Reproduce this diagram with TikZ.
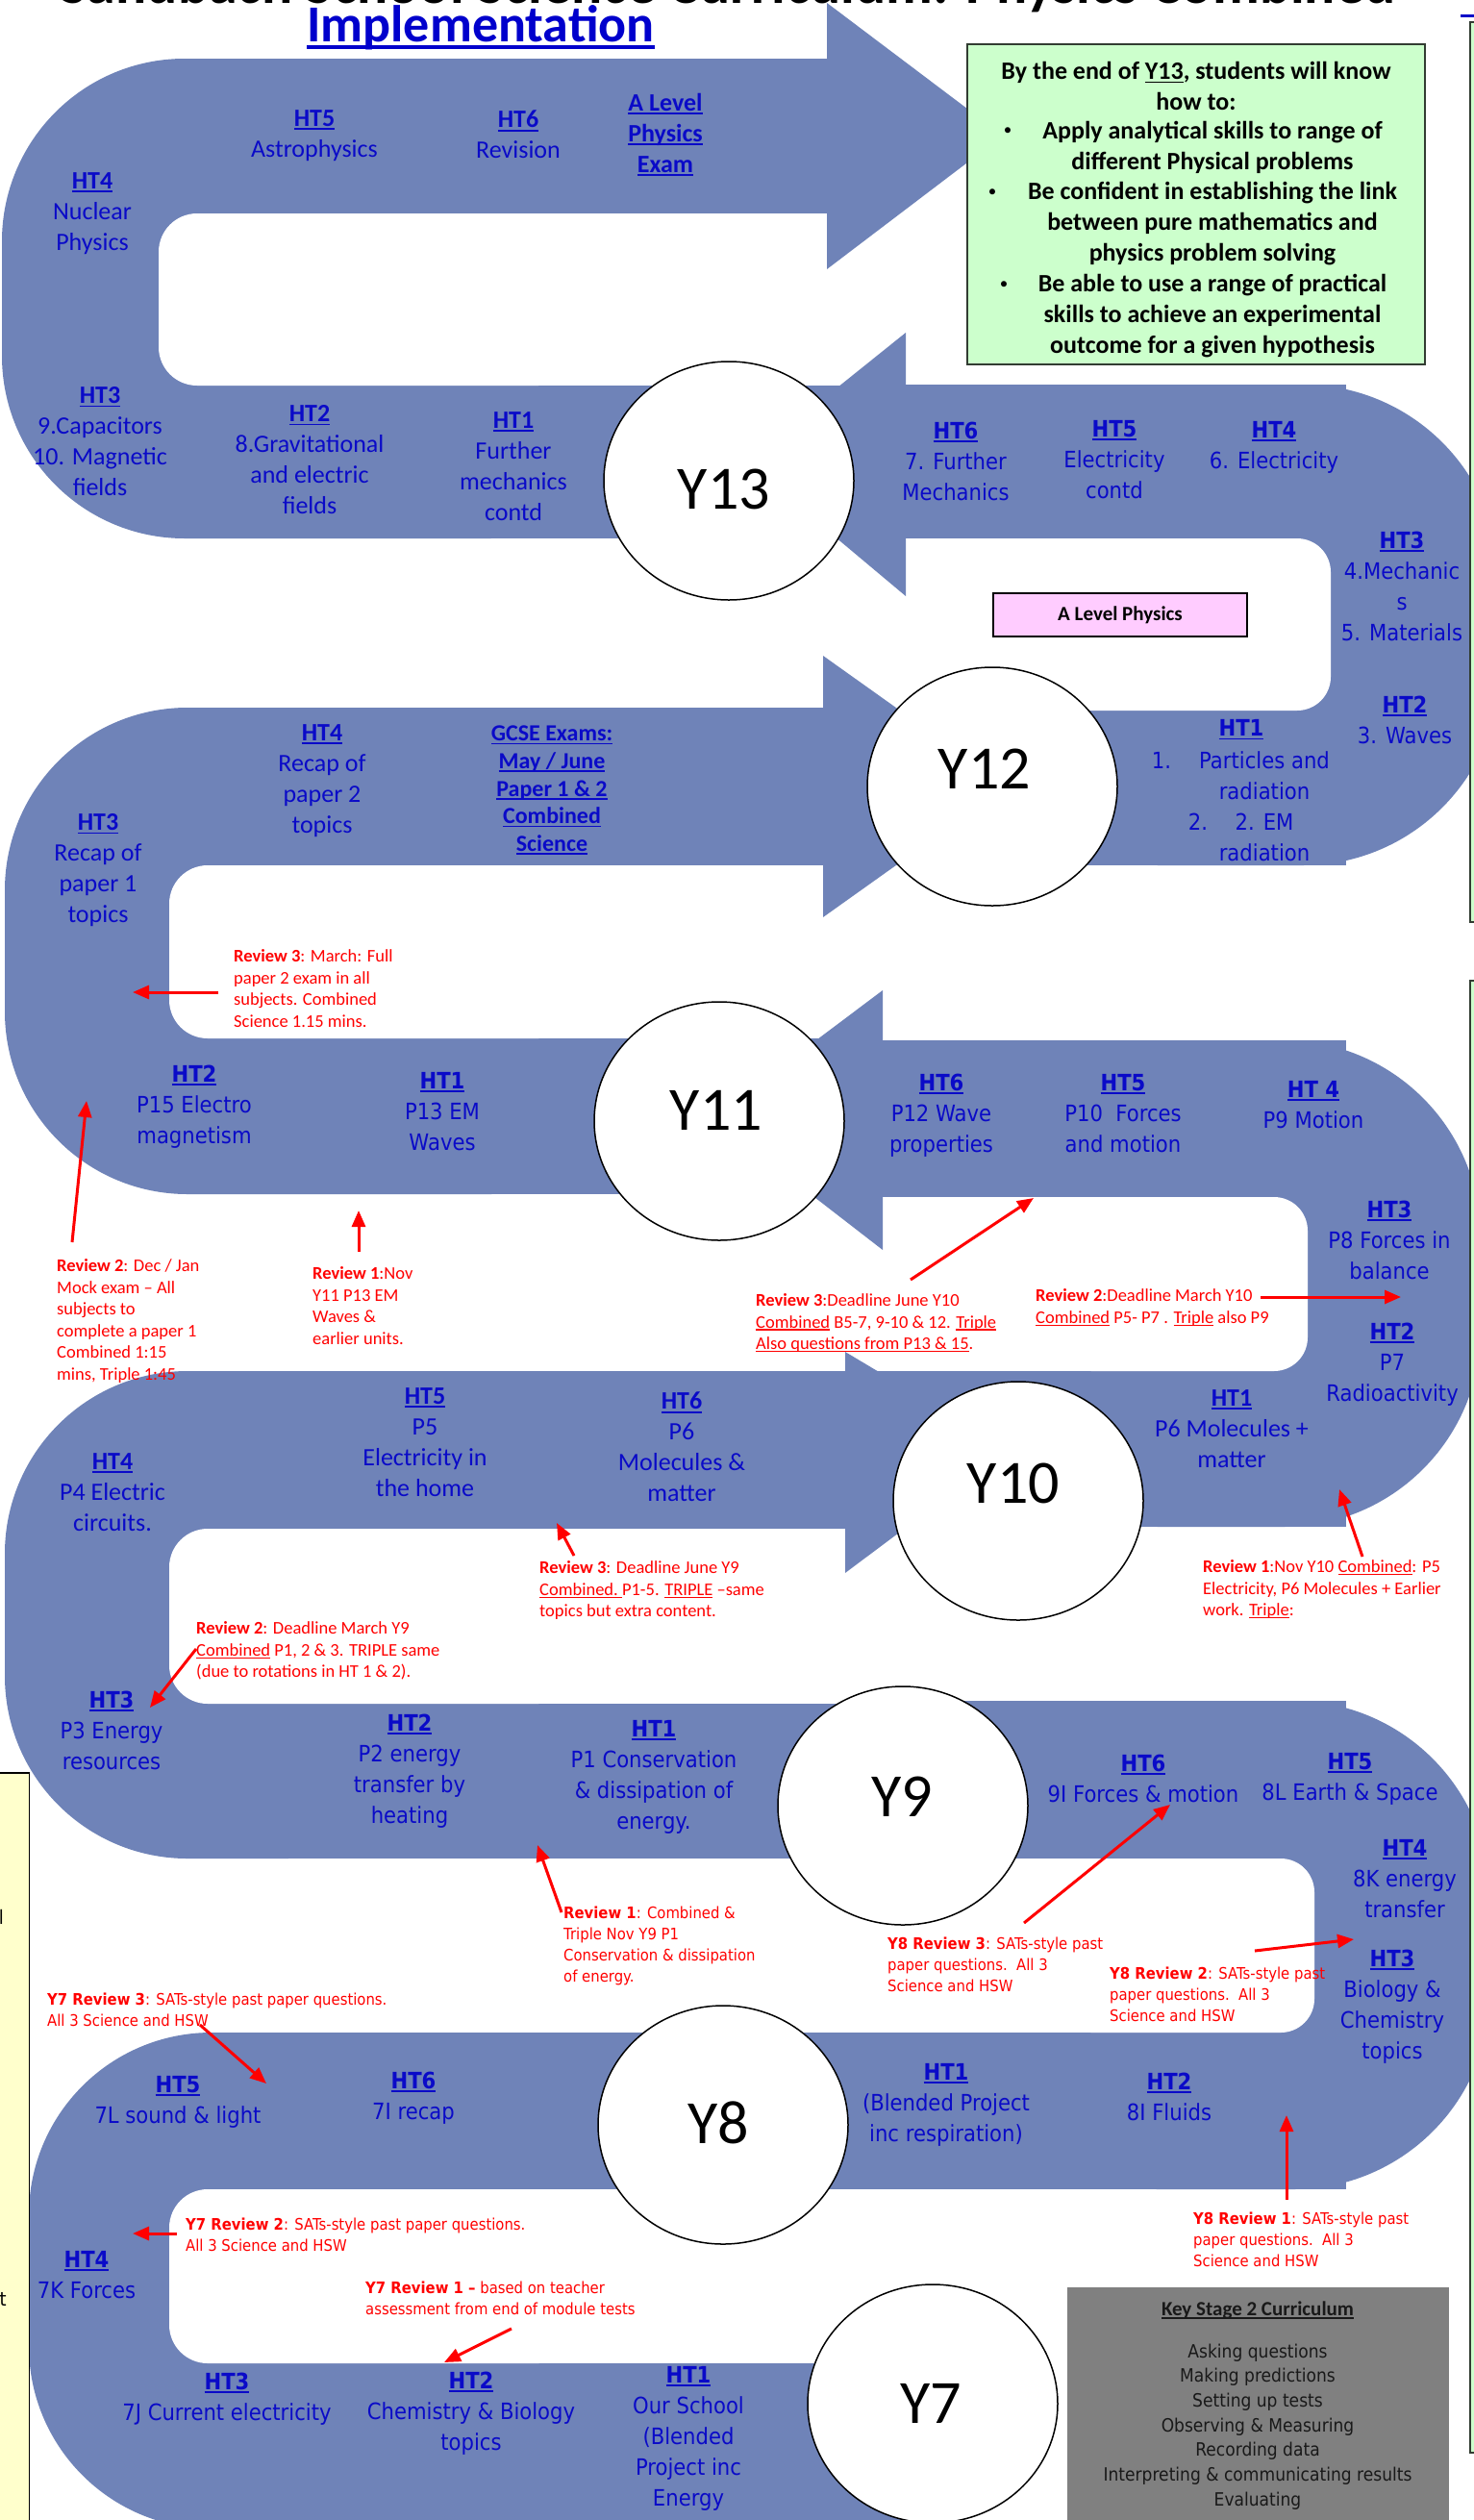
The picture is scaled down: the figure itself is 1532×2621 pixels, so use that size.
\documentclass[tikz,border=0pt]{standalone}
\usepackage{fontspec}
\setmainfont{Carlito}
\newfontfamily\calfnt{Carlito}
\newfontfamily\tahfnt[FakeStretch=0.9]{DejaVu Sans}
\usetikzlibrary{shapes.geometric,arrows.meta}
\definecolor{band}{RGB}{111,131,184}
\definecolor{tblue}{RGB}{10,10,200}
\definecolor{gfill}{RGB}{204,255,204}
\definecolor{gline}{RGB}{50,60,50}
\definecolor{pfill}{RGB}{255,204,255}
\definecolor{yfill}{RGB}{255,255,204}
\definecolor{kfill}{RGB}{128,128,128}
\newcommand\ulx[1]{\leavevmode\setbox0\hbox{#1}\rlap{\rule[-0.15em]{\wd0}{0.07em}}\box0\relax}
\begin{document}
\begin{tikzpicture}[x=1pt,y=-1pt,
 cal/.style={font=\calfnt\fontsize{26}{32}\selectfont, text=tblue, align=center, inner sep=0pt},
 tah/.style={font=\tahfnt\fontsize{23.5}{32}\selectfont, text=tblue, align=center, inner sep=0pt},
 revc/.style={font=\calfnt\fontsize{18.5}{22.6}\selectfont, text=red, align=left, anchor=west, inner sep=0pt},
 revt/.style={font=\tahfnt\fontsize{16.5}{22}\selectfont, text=red, align=left, anchor=west, inner sep=0pt},
 yc/.style={ellipse, draw=black, line width=1.5pt, fill=white, minimum width=260pt, minimum height=248pt, inner sep=0pt},
 ylab/.style={font=\calfnt\fontsize{64}{64}\selectfont, inner sep=0pt},
 gtext/.style={font=\calfnt\bfseries\fontsize{26}{32}\selectfont, align=center, inner sep=0pt},
 gbul/.style={font=\calfnt\fontsize{17}{17}\selectfont, inner sep=0pt},
 redarr/.style={draw=red, line width=3pt, -{Triangle[length=17pt,width=14pt]}},
]
\useasboundingbox (0,0) rectangle (1532,2621);
\fill[white] (0,0) rectangle (1532,2621);

% ---------- U1 (Y13) ----------
\fill[band, rounded corners=190pt] (2,61) rectangle (700,560);
\fill[band] (500,61) rectangle (860,222);
\fill[band] (500,401) rectangle (942,560);
\fill[white, rounded corners=40pt] (165,222) rectangle (600,401);
\fill[white] (400,222) rectangle (860,401);
\fill[band] (860,3) -- (1043,141) -- (860,280) -- cycle;
% ---------- U2 (Y12) ----------
\fill[band, rounded corners=205pt] (1000,400) rectangle (1560,900);
\fill[band] (942,400) rectangle (1400,560);
\fill[band] (900,739) rectangle (1400,900);
\fill[white, rounded corners=35pt] (1100,560) rectangle (1384,739);
\fill[white] (942,560) rectangle (1250,739);
\fill[band] (942,346) -- (775,480) -- (942,620) -- cycle;
% ---------- U3 (Y11) ----------
\fill[band, rounded corners=190pt] (5,736) rectangle (700,1242);
\fill[band] (500,736) rectangle (856,900);
\fill[band] (500,1080) rectangle (918,1242);
\fill[white, rounded corners=40pt] (176,900) rectangle (600,1080);
\fill[white] (400,900) rectangle (856,1080);
\fill[band] (856,682) -- (1047,818) -- (856,954) -- cycle;
% ---------- U4 (Y10) ----------
\fill[band, rounded corners=205pt] (1000,1082) rectangle (1540,1588);
\fill[band] (918,1082) rectangle (1400,1245);
\fill[band] (879,1426) rectangle (1400,1588);
\fill[white, rounded corners=35pt] (1100,1245) rectangle (1360,1426);
\fill[white] (918,1245) rectangle (1250,1426);
\fill[band] (918,1030) -- (741,1163) -- (918,1300) -- cycle;
% ---------- U5 (Y9) ----------
\fill[band, rounded corners=190pt] (5,1426) rectangle (700,1933);
\fill[band] (500,1426) rectangle (879,1590);
\fill[band] (500,1772) rectangle (945,1933);
\fill[white, rounded corners=40pt] (176,1590) rectangle (600,1772);
\fill[white] (400,1590) rectangle (879,1772);
\fill[band] (879,1406) -- (1050,1508) -- (879,1636) -- cycle;
% ---------- U6 (Y8) ----------
\fill[band, rounded corners=205pt] (1000,1769) rectangle (1550,2277);
\fill[band] (930,1769) rectangle (1400,1933);
\fill[band] (750,2114) rectangle (1400,2277);
\fill[white, rounded corners=35pt] (1100,1933) rectangle (1367,2114);
\fill[white] (300,1933) rectangle (1250,2114);
% ---------- U7 (Y7) ----------
\fill[band, rounded corners=190pt] (30,2114) rectangle (700,2630);
\fill[band] (500,2114) rectangle (760,2277);
\fill[band] (500,2458) rectangle (970,2630);
\fill[white, rounded corners=40pt] (176,2277) rectangle (600,2458);
\fill[white] (400,2277) rectangle (1000,2458);

% ---------- circles ----------
\node[yc] (c13) at (758,500) {};
\node[yc] (c12) at (1032,818) {};
\node[yc] (c11) at (748,1166) {};
\node[yc] (c10) at (1059,1561) {};
\node[yc] (c9) at (939,1878) {};
\node[yc] (c8) at (752,2210) {};
\node[yc] (c7) at (970,2500) {};
\node[ylab] (l13) at (753,509) {Y13};
\node[ylab] (l12) at (1024,800) {Y12};
\node[ylab] (l11) at (745,1155) {Y11};
\node[ylab] (l10) at (1054,1543) {Y10};
\node[ylab] (l9) at (938,1869) {Y9};
\node[ylab] (l8) at (747,2208) {Y8};
\node[ylab] (l7) at (968,2500) {Y7};

% ---------- boxes ----------
\node[draw=gline, line width=2pt, fill=gfill, anchor=north west, minimum width=60pt, minimum height=936pt, inner sep=0pt] (rb1) at (1528,22) {};
\node[draw=gline, line width=2pt, fill=gfill, anchor=north west, minimum width=60pt, minimum height=1531pt, inner sep=0pt] (rb2) at (1528,1019) {};
\coordinate (tu1) at (1519,16);
\coordinate (tu2) at (1545,16);
\draw[tblue, line width=3pt] (tu1) -- (tu2);
\node[draw=black, line width=1.5pt, fill=yfill, anchor=north east, minimum width=60pt, minimum height=820pt, inner sep=0pt] (yb) at (31,1843) {};
\node[font=\tahfnt\fontsize{20}{20}\selectfont, anchor=base east, inner sep=0pt] (yf1) at (4,2001) {l};
\node[font=\tahfnt\fontsize{20}{20}\selectfont, anchor=base east, inner sep=0pt] (yf2) at (7,2398) {t};

\node[draw=gline, line width=1.5pt, fill=gfill, minimum width=476pt, minimum height=333pt, inner sep=0pt] (gb) at (1244,212.5) {};
\node[gtext] (g1) at (1244,89.5) {By the end of \ulx{Y13}, students will know\\how to:};
\node[gtext] (g2) at (1261,153) {Apply analytical skills to range of\\different Physical problems};
\node[gtext] (g3) at (1261,233) {Be confident in establishing the link\\between pure mathematics and\\physics problem solving};
\node[gtext] (g4) at (1261,329) {Be able to use a range of practical\\skills to achieve an experimental\\outcome for a given hypothesis};
\node[gbul] (gb1) at (1048,137) {\textbullet};
\node[gbul] (gb2) at (1032,201) {\textbullet};
\node[gbul] (gb3) at (1044,297) {\textbullet};

\node[draw=black, line width=1.5pt, fill=pfill, minimum width=264pt, minimum height=45pt, inner sep=0pt, font=\calfnt\bfseries\fontsize{21}{21}\selectfont] (pb) at (1165,639.5) {A Level Physics};

\node[fill=kfill, anchor=north west, minimum width=397pt, minimum height=262pt, inner sep=0pt] (ks) at (1110,2379) {};
\node[font=\calfnt\bfseries\fontsize{21}{21}\selectfont, text={rgb,255:red,25;green,25;blue,25}, inner sep=0pt] (ks1) at (1308,2403) {\ulx{Key Stage 2 Curriculum}};
\node[font=\tahfnt\fontsize{19}{25.7}\selectfont, text={rgb,255:red,25;green,25;blue,25}, align=center, inner sep=0pt] (ks2) at (1308,2524) {Asking questions\\Making predictions\\Setting up tests\\Observing \& Measuring\\Recording data\\Interpreting \& communicating results\\Evaluating};

% ---------- title ----------
\node[font=\calfnt\bfseries\fontsize{60}{60}\selectfont, anchor=base, inner sep=0pt] (title1) at (757,3) {Sandbach School Science Curriculum: Physics Combined};
\node[font=\calfnt\bfseries\fontsize{54}{54}\selectfont, text={rgb,255:red,0;green,0;blue,204}, anchor=base, inner sep=0pt] (title2) at (500,43) {\ulx{Implementation}};

% ---------- U1 texts ----------
\node[cal] (u1a) at (327,141) {\textbf{\ulx{HT5}}\\Astrophysics};
\node[cal] (u1b) at (539,140) {\textbf{\ulx{HT6}}\\Revision};
\node[cal] (u1c) at (692,140) {\textbf{\ulx{A Level}}\\\textbf{\ulx{Physics}}\\\textbf{\ulx{Exam}}};
\node[cal] (u1d) at (96,222) {\textbf{\ulx{HT4}}\\Nuclear\\Physics};
\node[cal] (u1e) at (104,459) {\textbf{\ulx{HT3}}\\9.Capacitors\\10. Magnetic\\fields};
\node[cal] (u1f) at (322,478) {\textbf{\ulx{HT2}}\\8.Gravitational\\and electric\\fields};
\node[cal] (u1g) at (534,485) {\textbf{\ulx{HT1}}\\Further\\mechanics\\contd};
% ---------- U2 texts ----------
\node[tah] (u2a) at (994,480) {\textbf{\ulx{HT6}}\\7. Further\\Mechanics};
\node[tah] (u2b) at (1159,478) {\textbf{\ulx{HT5}}\\Electricity\\contd};
\node[tah] (u2c) at (1325,465) {\textbf{\ulx{HT4}}\\6. Electricity};
\node[tah] (u2d) at (1458,610) {\textbf{\ulx{HT3}}\\4.Mechanic\\s\\5. Materials};
\node[tah] (u2e) at (1461,749) {\textbf{\ulx{HT2}}\\3. Waves};
\node[tah] (u2f) at (1291,759) {\textbf{\ulx{HT1}}};
\node[tah] (u2g) at (1315,807) {Particles and\\radiation};
\node[tah] (u2h) at (1315,871) {2. EM\\radiation};
\node[tah] (u2i) at (1208,791) {1.};
\node[tah] (u2j) at (1246,855) {2.};
% ---------- U3 texts ----------
\node[cal] (u3a) at (335,812) {\textbf{\ulx{HT4}}\\Recap of\\paper 2\\topics};
\node[cal, font=\calfnt\bfseries\fontsize{24}{28.7}\selectfont] (u3b) at (574,822) {\ulx{GCSE Exams:}\\\ulx{May / June}\\\ulx{Paper 1 \& 2}\\\ulx{Combined}\\\ulx{Science}};
\node[cal] (u3c) at (102,905) {\textbf{\ulx{HT3}}\\Recap of\\paper 1\\topics};
\node[tah] (u3d) at (202,1151) {\textbf{\ulx{HT2}}\\P15 Electro\\magnetism};
\node[tah] (u3e) at (460,1156) {\textbf{\ulx{HT1}}\\P13 EM\\Waves};
% ---------- U4 texts ----------
\node[tah] (u4a) at (979,1160) {\textbf{\ulx{HT6}}\\P12 Wave\\properties};
\node[tah] (u4b) at (1168,1158) {\textbf{\ulx{HT5}}\\P10\ \ Forces\\and motion};
\node[tah] (u4c) at (1366,1149) {\textbf{\ulx{HT 4}}\\P9 Motion};
\node[tah] (u4d) at (1445,1290) {\textbf{\ulx{HT3}}\\P8 Forces in\\balance};
\node[tah] (u4e) at (1448,1419) {\textbf{\ulx{HT2}}\\P7\\Radioactivity};
\node[cal] (u4f) at (1281,1486) {\textbf{\ulx{HT1}}\\P6 Molecules +\\matter};
% ---------- U5 texts ----------
\node[cal] (u5a) at (442,1500) {\textbf{\ulx{HT5}}\\P5\\Electricity in\\the home};
\node[cal] (u5b) at (709,1505) {\textbf{\ulx{HT6}}\\P6\\Molecules \&\\matter};
\node[cal] (u5c) at (117,1552) {\textbf{\ulx{HT4}}\\P4 Electric\\circuits.};
\node[tah] (u5d) at (116,1800) {\textbf{\ulx{HT3}}\\P3 Energy\\resources};
\node[tah] (u5e) at (426,1842) {\textbf{\ulx{HT2}}\\P2 energy\\transfer by\\heating};
\node[tah] (u5f) at (680,1848) {\textbf{\ulx{HT1}}\\P1 Conservation\\\& dissipation of\\energy.};
% ---------- U6 texts ----------
\node[tah] (u6a) at (1189,1850) {\textbf{\ulx{HT6}}\\9I Forces \& motion};
\node[tah] (u6b) at (1404,1850) {\textbf{\ulx{HT5}}\\8L Earth \& Space};
\node[tah] (u6c) at (1461,1954) {\textbf{\ulx{HT4}}\\8K energy\\transfer};
\node[tah] (u6d) at (1448,2087) {\textbf{\ulx{HT3}}\\Biology \&\\Chemistry\\topics};
\node[tah] (u6e) at (1216,2181) {\textbf{\ulx{HT2}}\\8I Fluids};
\node[tah] (u6f) at (984,2189) {\textbf{\ulx{HT1}}\\(Blended Project\\inc respiration)};
% ---------- U7 texts ----------
\node[tah] (u7a) at (185,2186) {\textbf{\ulx{HT5}}\\7L sound \& light};
\node[tah] (u7b) at (430,2182) {\textbf{\ulx{HT6}}\\7I recap};
\node[tah] (u7c) at (90,2366) {\textbf{\ulx{HT4}}\\7K Forces};
\node[tah] (u7d) at (236,2495) {\textbf{\ulx{HT3}}\\7J Current electricity};
\node[tah] (u7e) at (490,2510) {\textbf{\ulx{HT2}}\\Chemistry \& Biology\\topics};
\node[tah] (u7f) at (716,2536) {\textbf{\ulx{HT1}}\\Our School\\(Blended\\Project inc\\Energy};

% ---------- review notes ----------
\node[revc] (ra3) at (243,1028) {\textbf{Review 3}: March: Full\\paper 2 exam in all\\subjects. Combined\\Science 1.15 mins.};
\node[revc] (ra2) at (59,1374) {\textbf{Review 2}: Dec / Jan\\Mock exam – All\\subjects to\\complete a paper 1\\Combined 1:15\\mins, Triple 1:45};
\node[revc] (ra1) at (325,1358) {\textbf{Review 1}:Nov\\Y11 P13 EM\\Waves \&\\earlier units.};
\node[revc] (rb3) at (786,1376) {\textbf{Review 3}:Deadline June Y10\\\ulx{Combined} B5-7, 9-10 \& 12. \ulx{Triple}\\\ulx{Also questions from P13 \& 15}.};
\node[revc] (rb2n) at (1077,1360) {\textbf{Review 2}:Deadline March Y10\\\ulx{Combined} P5- P7 . \ulx{Triple} also P9};
\node[revc] (rb1n) at (1251,1653) {\textbf{Review 1}:Nov Y10 \ulx{Combined}: P5\\Electricity, P6 Molecules + Earlier\\work. \ulx{Triple}:};
\node[revc] (rc3) at (561,1654) {\textbf{Review 3}: Deadline June Y9\\\ulx{Combined.\ }P1-5. \ulx{TRIPLE} –same\\topics but extra content.};
\node[revc] (rc2) at (204,1717) {\textbf{Review 2}: Deadline March Y9\\\ulx{Combined} P1, 2 \& 3. TRIPLE same\\(due to rotations in HT 1 \& 2).};
\node[revt] (rc1) at (586,2024) {\textbf{Review 1}: Combined \&\\Triple Nov Y9 P1\\Conservation \& dissipation\\of energy.};
\node[revt] (r83) at (923,2043) {\textbf{Y8 Review 3}: SATs-style past\\paper questions.\ \ All 3\\Science and HSW};
\node[revt] (r82) at (1154,2074) {\textbf{Y8 Review 2}: SATs-style past\\paper questions.\ \ All 3\\Science and HSW};
\node[revt] (r81) at (1241,2329) {\textbf{Y8 Review 1}: SATs-style past\\paper questions.\ \ All 3\\Science and HSW};
\node[revt] (r73) at (49,2090) {\textbf{Y7 Review 3}: SATs-style past paper questions.\\All 3 Science and HSW};
\node[revt] (r72) at (193,2324) {\textbf{Y7 Review 2}: SATs-style past paper questions.\\All 3 Science and HSW};
\node[revt] (r71) at (380,2390) {\textbf{Y7 Review 1 –} based on teacher\\assessment from end of module tests};

% ---------- red arrows ----------
\coordinate (a1s) at (227,1032);  \coordinate (a1e) at (138,1032);
\coordinate (a2s) at (75,1292);   \coordinate (a2e) at (90,1145);
\coordinate (a3s) at (373,1302);  \coordinate (a3e) at (373,1259);
\coordinate (a4s) at (947,1331);  \coordinate (a4e) at (1075,1246);
\coordinate (a5s) at (1311,1349); \coordinate (a5e) at (1457,1349);
\coordinate (a6s) at (1417,1619); \coordinate (a6e) at (1393,1549);
\coordinate (a7s) at (597,1618);  \coordinate (a7e) at (579,1584);
\coordinate (a8s) at (204,1715);  \coordinate (a8e) at (156,1776);
\coordinate (a9s) at (584,1989);  \coordinate (a9e) at (559,1919);
\coordinate (a10s) at (1065,2000); \coordinate (a10e) at (1217,1877);
\coordinate (a11s) at (1305,2029); \coordinate (a11e) at (1408,2017);
\coordinate (a12s) at (1338,2288); \coordinate (a12e) at (1338,2200);
\coordinate (a13s) at (208,2106);  \coordinate (a13e) at (277,2167);
\coordinate (a14s) at (184,2323);  \coordinate (a14e) at (138,2323);
\coordinate (a15s) at (532,2422);  \coordinate (a15e) at (462,2457);
\foreach \i in {1,...,15} {\draw[redarr] (a\i s) -- (a\i e);}
\end{tikzpicture}
\end{document}
